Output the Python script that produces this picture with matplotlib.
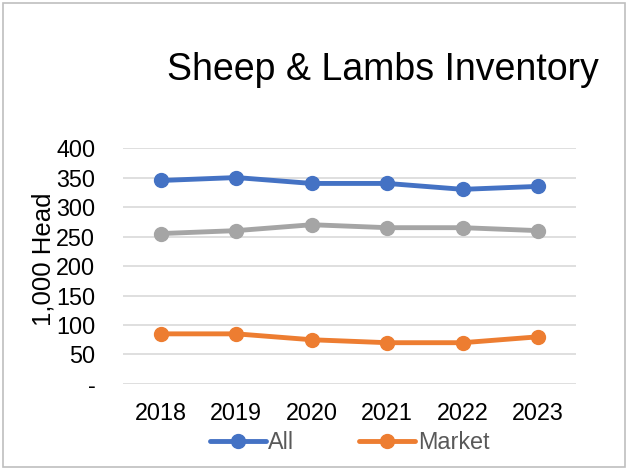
import matplotlib
matplotlib.use('Agg')
import matplotlib.pyplot as plt
from matplotlib.patches import Rectangle

years = ['2018', '2019', '2020', '2021', '2022', '2023']
all_head = [345, 350, 340, 340, 330, 335]
breeding = [255, 260, 270, 265, 265, 260]
market = [85, 85, 75, 70, 70, 80]
yticks = [0, 50, 100, 150, 200, 250, 300, 350, 400]
ytick_labels = ['-', '50', '100', '150', '200', '250', '300', '350', '400']

plt.rcParams['font.family'] = ['Liberation Sans', 'DejaVu Sans']

fig = plt.figure(figsize=(6.28, 4.70), dpi=100)
fig.patches.append(Rectangle((0.005, 0.006), 0.991, 0.988, transform=fig.transFigure,
                             fill=False, edgecolor='#bfbfbf', linewidth=1.2))
ax = fig.add_axes([0.196, 0.183, 0.721, 0.502])

x = range(len(years))
style = dict(linewidth=3.5, marker='o', markersize=10, solid_capstyle='round')
l_all, = ax.plot(x, all_head, color='#4472C4', label='All', **style)
ax.plot(x, breeding, color='#A5A5A5', **style)
l_mkt, = ax.plot(x, market, color='#ED7D31', label='Market', **style)

ax.set_xlim(-0.5, len(years) - 0.5)
ax.set_ylim(0, 400)
ax.set_yticks(yticks)
ax.set_yticklabels(ytick_labels)
ax.set_xticks(list(x))
ax.set_xticklabels(years)
ax.grid(axis='y', color='#d9d9d9', linewidth=1.2)
ax.set_axisbelow(True)
for s in ax.spines.values():
    s.set_visible(False)
ax.tick_params(length=0, labelsize=16.8)
ax.tick_params(axis='x', pad=13)
ax.tick_params(axis='y', pad=20)
ax.set_ylabel('1,000 Head', fontsize=18.5, labelpad=2)
ax.yaxis.set_label_coords(-0.15, 0.53)

fig.text(0.61, 0.85, 'Sheep & Lambs Inventory', fontsize=27, ha='center', va='center')

leg = ax.legend(handles=[l_all, l_mkt], loc='center', bbox_to_anchor=(0.5, -0.25),
                ncol=2, frameon=False, fontsize=16.8, handlelength=2.4,
                handletextpad=0.1, columnspacing=2.8, borderaxespad=0)
for t in leg.get_texts():
    t.set_color('#595959')

fig.savefig('out.png', dpi=100)
